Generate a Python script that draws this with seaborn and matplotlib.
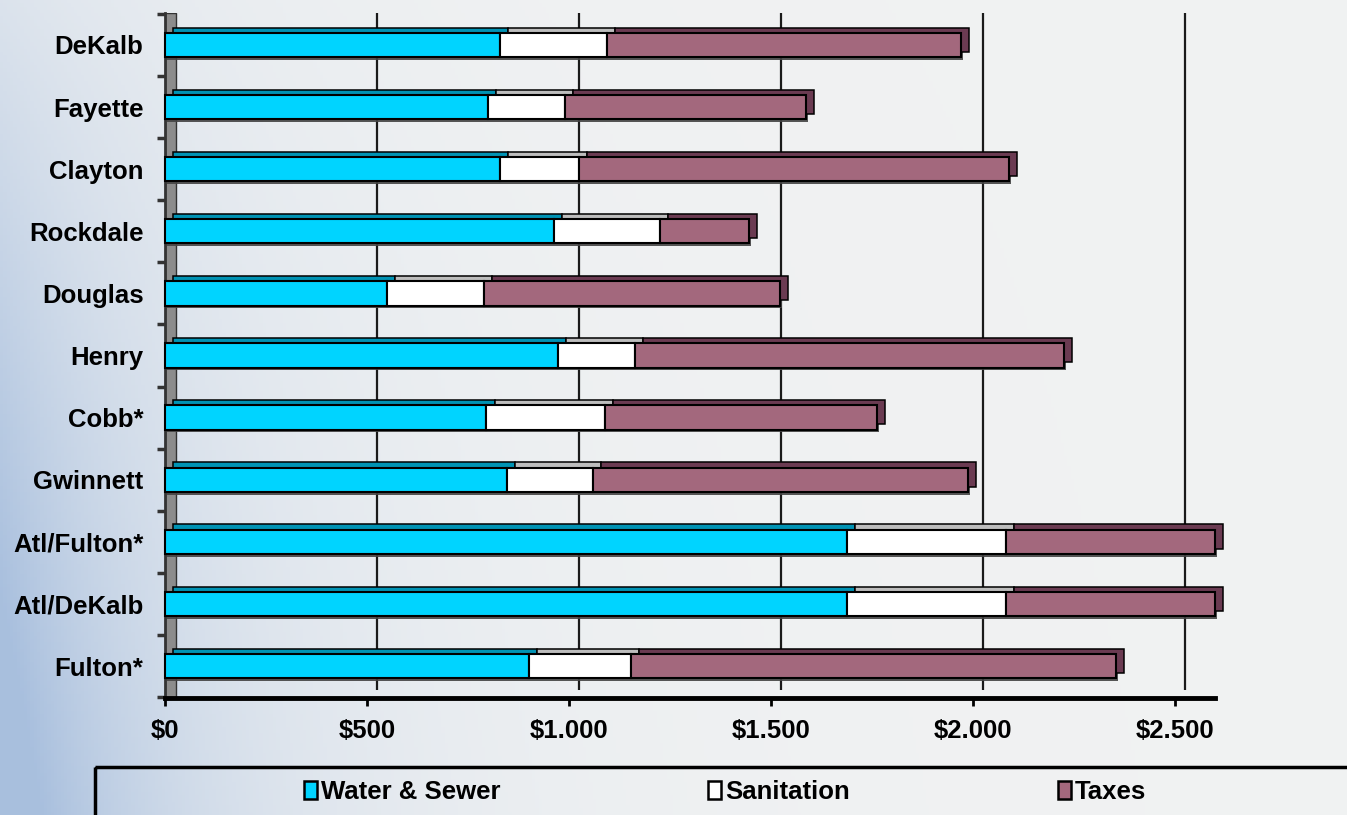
import numpy as np
import pandas as pd
import matplotlib
matplotlib.use("Agg")
import matplotlib.pyplot as plt
import seaborn as sns
from matplotlib import patheffects as pe, font_manager
from matplotlib.patches import Rectangle, Patch
from matplotlib.transforms import ScaledTranslation

# ---------------- data ----------------
counties = ["DeKalb", "Fayette", "Clayton", "Rockdale", "Douglas", "Henry",
            "Cobb*", "Gwinnett", "Atl/Fulton*", "Atl/DeKalb", "Fulton*"]
water = [830, 800, 830, 963, 549, 972, 796, 846, 1688, 1688, 902]
sanitation = [265, 190, 195, 263, 240, 191, 294, 214, 394, 394, 253]
taxes = [875, 597, 1064, 219, 733, 1063, 672, 929, 517, 517, 1199]
series = ["Water & Sewer", "Sanitation", "Taxes"]
xticks = [0, 500, 1000, 1500, 2000, 2500]
xticklabels = ["$0", "$500", "$1.000", "$1.500", "$2.000", "$2.500"]

# ---------------- style ----------------
sns.set_theme(style="white")
names = {f.name for f in font_manager.fontManager.ttflist}
if "Liberation Sans Narrow" in names:
    FONT, FS = "Liberation Sans Narrow", 21
else:
    FONT, FS = "Liberation Sans", 18.5
plt.rcParams["font.family"] = [FONT, "DejaVu Sans"]
plt.rcParams["font.weight"] = "bold"
plt.rcParams["text.color"] = "black"
plt.rcParams["xtick.color"] = "black"
plt.rcParams["ytick.color"] = "black"

face_cols = ["#00d4ff", "#ffffff", "#a3687d"]
top_cols = ["#0093b4", "#bdbdbd", "#6b3b52"]

W, H = 1347, 815
fig = plt.figure(figsize=(W / 100, H / 100), dpi=100)

# background gradient (decoration)
bg = fig.add_axes([0, 0, 1, 1], zorder=-10)
gx, gy = np.meshgrid(np.linspace(0, 1, 400), np.linspace(0, 1, 250))
w = np.exp(-gx / 0.16) * (0.30 + 0.70 * gy)
w = np.clip(w + 0.25 * np.exp(-gx / 0.08) * gy, 0, 1)
gray = np.array([0.945, 0.950, 0.952])
blue = np.array([0.66, 0.75, 0.87])
img = gray[None, None, :] * (1 - w[..., None]) + blue[None, None, :] * w[..., None]
bg.imshow(img, aspect="auto", extent=[0, 1, 0, 1], origin="upper")
bg.set_axis_off()

x0, x1 = 165, 1215
ytop, ybot = 13, 698
ax = fig.add_axes([x0 / W, 1 - ybot / H, (x1 - x0) / W, (ybot - ytop) / H])
ax.patch.set_alpha(0)

n = len(counties)
lefts = [np.zeros(n), np.array(water, float), np.array(water, float) + np.array(sanitation, float)]
vals = [water, sanitation, taxes]

for v, left, fc, tc in zip(vals, lefts, face_cols, top_cols):
    effects = [
        pe.SimplePatchShadow(offset=(1.6, -2.0), shadow_rgbFace="#444444", alpha=0.9),
        pe.PathPatchEffect(offset=(5.8, 3.8), facecolor=tc, edgecolor="black", linewidth=1.1),
        pe.Normal(),
    ]
    sns.barplot(x=v, y=counties, order=counties, orient="h", left=left,
                color=fc, saturation=1, width=0.39, edgecolor="black",
                linewidth=1.5, ax=ax, path_effects=effects, zorder=3)
for p in ax.patches:
    p.set_clip_on(False)

ax.set_xlim(0, 2600)
ax.set_ylim(n - 1 + 0.515, -0.515)

# back-wall gridlines (shifted to the back plane)
back = ScaledTranslation(7.5 / 72, 0, fig.dpi_scale_trans)
gtrans = ax.get_xaxis_transform() + back
for v in xticks[1:]:
    ax.plot([v, v], [0.012, 1.0], color="#1a1a1a", lw=1.6, transform=gtrans,
            zorder=1, solid_capstyle="butt")

# left side wall
wall = Rectangle((0, 0.0), 26, 1.0, transform=ax.get_xaxis_transform(),
                 facecolor="#8c8c8c", edgecolor="#333333", lw=1.0, zorder=1.5)
ax.add_patch(wall)

# axes / ticks
for s in ["top", "right"]:
    ax.spines[s].set_visible(False)
ax.spines["left"].set_color("#333333")
ax.spines["left"].set_linewidth(2.0)
ax.spines["bottom"].set_color("black")
ax.spines["bottom"].set_linewidth(3.5)
ax.spines["bottom"].set_zorder(5)

ax.set_xticks(xticks)
ax.set_xticklabels(xticklabels, fontsize=FS, fontweight="bold", color="black")
ax.tick_params(axis="x", direction="out", length=6, width=2, color="black", pad=9, bottom=True)
ax.set_yticks(range(n))
ax.set_yticklabels(counties, fontsize=FS, fontweight="bold", color="black")
ax.tick_params(axis="y", which="major", length=0, pad=15.5, left=False)
ax.set_yticks(np.arange(-0.5, n, 1.0), minor=True)
ax.tick_params(axis="y", which="minor", length=6, width=2.5, color="#333333", left=True)
ax.set_xlabel("")
ax.set_ylabel("")
ax.grid(False)

# legend
handles = [Patch(facecolor=c, edgecolor="black", linewidth=1.8) for c in face_cols]
fig.legend(handles, series, loc="center", bbox_to_anchor=(725 / W, 1 - 792 / H),
           ncol=3, frameon=False, columnspacing=8.1, handlelength=0.5,
           handleheight=0.75, handletextpad=0.15, labelcolor="black",
           prop={"family": [FONT, "DejaVu Sans"], "weight": "bold", "size": FS})
box = Rectangle((95 / W, 1 - 767 / H), 1.0, -0.2, transform=fig.transFigure,
                fill=False, edgecolor="black", lw=2.5, clip_on=False)
fig.patches.append(box)

fig.savefig("out.png", dpi=100)
